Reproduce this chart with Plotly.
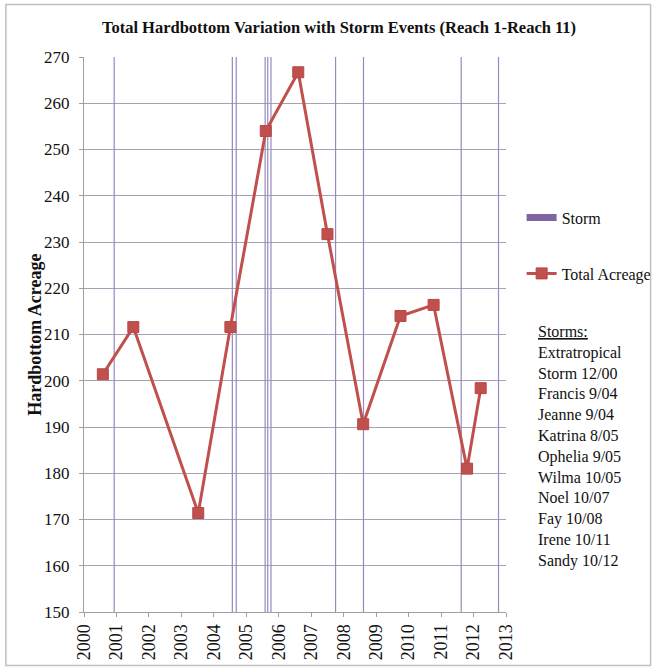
import plotly.graph_objects as go

# ---- data ----
years = [2000.58, 2001.52, 2003.52, 2004.51, 2005.60, 2006.60, 2007.50,
         2008.60, 2009.75, 2010.77, 2011.80, 2012.22]
acreage = [201.4, 211.6, 171.4, 211.6, 254.0, 266.7, 231.7,
           190.6, 214.0, 216.4, 181.0, 198.4]
storm_dates = [2000.93, 2004.57, 2004.69, 2005.58, 2005.66, 2005.76,
               2007.75, 2008.61, 2011.62, 2012.77]
storm_names = ["Extratropical<br>Storm 12/00", "Francis 9/04", "Jeanne 9/04",
               "Katrina 8/05", "Ophelia 9/05", "Wilma 10/05", "Noel 10/07",
               "Fay 10/08", "Irene 10/11", "Sandy 10/12"]
x_ticks = list(range(2000, 2014))
y_min, y_max = 150, 270

SERIF = "Liberation Serif, Times New Roman, serif"
STORM_COLOR = "#9589BE"
RED = "#C0504D"

# storm vertical lines
sx, sy = [], []
for d in storm_dates:
    sx += [d, d, None]
    sy += [y_min, y_max, None]

fig = go.Figure()
fig.add_trace(go.Scatter(x=sx, y=sy, mode="lines",
                         line=dict(color=STORM_COLOR, width=1.2),
                         showlegend=False, legendgroup="storm",
                         hoverinfo="skip"))
fig.add_trace(go.Scatter(x=[None], y=[None], mode="lines", name="Storm",
                         line=dict(color="#8064A2", width=7),
                         legendgroup="storm"))
fig.add_trace(go.Scatter(x=years, y=acreage, mode="lines+markers",
                         name="Total Acreage", legendgroup="acre",
                         line=dict(color=RED, width=3),
                         marker=dict(symbol="square", size=11, color=RED,
                                     line=dict(color="#B84844", width=1))))

L, R, T, B = 84, 153, 57, 55
W, H = 669, 672
pw, ph = W - L - R, H - T - B

fig.update_layout(
    width=W, height=H,
    margin=dict(l=L, r=R, t=T, b=B),
    paper_bgcolor="white", plot_bgcolor="white",
    font=dict(family=SERIF, color="#111", size=16),
    title=dict(text="<b>Total Hardbottom Variation with Storm Events (Reach 1-Reach 11)</b>",
               x=339 / W, xanchor="center", y=1 - 27 / H, yanchor="middle",
               xref="container", yref="container",
               font=dict(family=SERIF, size=16.5, color="#111")),
    xaxis=dict(range=[2000, 2013], tickvals=x_ticks, ticktext=[str(v) for v in x_ticks],
               tickangle=-90, showgrid=False, zeroline=False,
               showline=True, linecolor="#A0A0A0", linewidth=1,
               ticks="outside", ticklen=4, tickcolor="#A0A0A0",
               tickfont=dict(family=SERIF, size=18, color="#111")),
    xaxis2=dict(range=[2000, 2013], tickvals=x_ticks, overlaying="x", anchor="y",
                side="bottom", showticklabels=False, showgrid=False, zeroline=False,
                showline=False, ticks="inside", ticklen=5, tickcolor="#A0A0A0"),
    yaxis=dict(range=[y_min, y_max], dtick=10, tick0=150,
               showgrid=True, gridcolor="#A6A1B6", gridwidth=1,
               zeroline=False, showline=True, linecolor="#A0A0A0", linewidth=1,
               ticks="outside", ticklen=4, tickcolor="#A0A0A0",
               ticklabelstandoff=6,
               tickfont=dict(family=SERIF, size=17, color="#111")),
    legend=dict(x=(532 - L) / pw, y=(H - B - 202) / ph, xanchor="left", yanchor="top",
                font=dict(family=SERIF, size=16, color="#111"),
                tracegroupgap=32, bgcolor="rgba(0,0,0,0)"),
    hovermode=False,
)

# y-axis title
fig.add_annotation(text="<b>Hardbottom Acreage</b>", textangle=-90,
                   xref="paper", yref="paper", x=(33 - L) / pw, y=0.5,
                   xanchor="center", yanchor="middle", showarrow=False,
                   font=dict(family=SERIF, size=18, color="#111"))

# storms list
storm_text = "<u>Storms:</u><br>" + "<br>".join(storm_names)
fig.add_annotation(text=storm_text, align="left",
                   xref="paper", yref="paper", x=(547 - L) / pw, y=(H - B - 323) / ph,
                   xanchor="left", yanchor="top", showarrow=False,
                   font=dict(family=SERIF, size=16, color="#111"))

# outer frame
fig.add_shape(type="rect", xref="paper", yref="paper",
              x0=(4 - L) / pw, x1=(664 - L) / pw,
              y0=(H - B - 671) / ph, y1=(H - B - 4) / ph,
              line=dict(color="#BFBFBF", width=1.5), fillcolor="rgba(0,0,0,0)",
              layer="below")

fig.write_html("out.html")
